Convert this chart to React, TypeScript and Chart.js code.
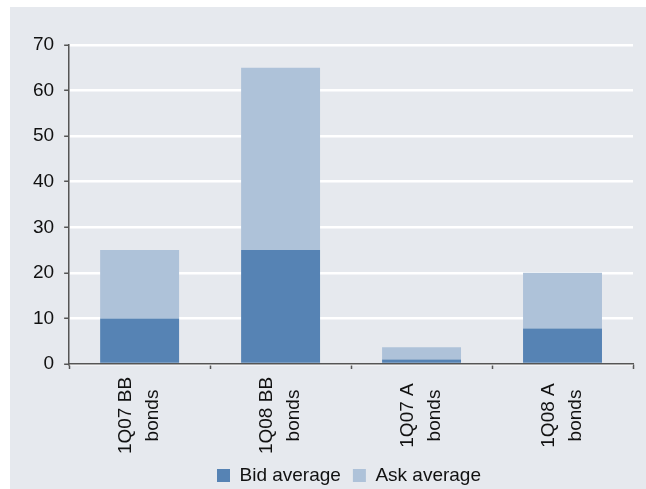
import React, { useEffect, useRef } from "react";
import { Chart, registerables } from "chart.js";

Chart.register(...registerables);

// Categories (each split over two lines) and stacked series values
const categories: string[][] = [
  ["1Q07 BB", "bonds"],
  ["1Q08 BB", "bonds"],
  ["1Q07 A", "bonds"],
  ["1Q08 A", "bonds"],
];
const bidAverage: number[] = [10, 25, 1, 7.8];
const askAverage: number[] = [15, 40, 2.7, 12.2];
const yTicks: number[] = [0, 10, 20, 30, 40, 50, 60, 70];

const BG = "#e6e9ee";
const AXIS = "#555555";
const FONT = "'Liberation Sans', Arial, sans-serif";
const FONT_SIZE = 19;

// Draws the category labels rotated and centred under each bar
const centeredXLabels = {
  id: "centeredXLabels",
  afterDraw(chart: any) {
    const x = chart.scales.x;
    const ctx = chart.ctx;
    const cy = 408.5;
    const lineH = 27;
    ctx.save();
    ctx.fillStyle = "#111111";
    ctx.font = `${FONT_SIZE}px ${FONT}`;
    ctx.textAlign = "center";
    ctx.textBaseline = "middle";
    categories.forEach((lines, i) => {
      const px = x.getPixelForTick(i);
      const n = lines.length;
      lines.forEach((line, j) => {
        const off = (j - (n - 1) / 2) * lineH;
        ctx.save();
        ctx.translate(px + off, cy);
        ctx.rotate(-Math.PI / 2);
        ctx.fillText(line, 0, 0);
        ctx.restore();
      });
    });
    ctx.restore();
  },
};

// Nudges the legend row a little to the right of the canvas centre
const legendShift = {
  id: "legendShift",
  afterLayout(chart: any) {
    const lg = chart.legend;
    if (lg) {
      lg.left += 21;
      lg.right += 21;
    }
  },
};

export default function App() {
  const canvasRef = useRef<HTMLCanvasElement | null>(null);

  useEffect(() => {
    if (!canvasRef.current) return;
    const chart = new Chart(canvasRef.current, {
      type: "bar",
      data: {
        labels: categories.map((c) => c.join(" ")),
        datasets: [
          {
            label: "Bid average",
            data: bidAverage,
            backgroundColor: "#5683b4",
            barPercentage: 0.56,
            categoryPercentage: 1,
          },
          {
            label: "Ask average",
            data: askAverage,
            backgroundColor: "#aec2d9",
            barPercentage: 0.56,
            categoryPercentage: 1,
          },
        ],
      },
      options: {
        responsive: false,
        animation: false,
        devicePixelRatio: 1,
        layout: { padding: { left: 13, right: 13, top: 38, bottom: -6 } },
        plugins: {
          tooltip: { enabled: false },
          legend: {
            position: "bottom",
            labels: {
              boxWidth: 13,
              boxHeight: 13,
              padding: 12,
              color: "#111111",
              font: { size: FONT_SIZE, family: FONT },
            },
          },
        },
        scales: {
          x: {
            stacked: true,
            offset: true,
            border: { color: AXIS, width: 1.5 },
            grid: {
              display: true,
              offset: true,
              drawOnChartArea: false,
              color: "rgba(0,0,0,0)",
              tickColor: AXIS,
              tickLength: 5,
              tickWidth: 1.5,
            },
            ticks: {
              color: "rgba(0,0,0,0)",
              maxRotation: 90,
              minRotation: 90,
              font: { size: FONT_SIZE, family: FONT },
            },
            afterFit(scale: any) {
              scale.height = 90;
            },
          },
          y: {
            stacked: true,
            min: 0,
            max: 70,
            afterBuildTicks(scale: any) {
              scale.ticks = yTicks.map((v) => ({ value: v }));
            },
            border: { color: AXIS, width: 1.5 },
            grid: {
              color: "#ffffff",
              lineWidth: 2.5,
              tickColor: AXIS,
              tickLength: 5,
              tickWidth: 1.5,
            },
            ticks: {
              padding: 10,
              color: "#111111",
              font: { size: FONT_SIZE, family: FONT },
            },
          },
        },
      },
      plugins: [centeredXLabels, legendShift],
    });
    return () => chart.destroy();
  }, []);

  return (
    <div
      style={{
        position: "fixed",
        left: 10,
        top: 7,
        width: 636,
        height: 482,
        background: BG,
      }}
    >
      <canvas ref={canvasRef} width={636} height={482} style={{ display: "block" }} />
    </div>
  );
}
